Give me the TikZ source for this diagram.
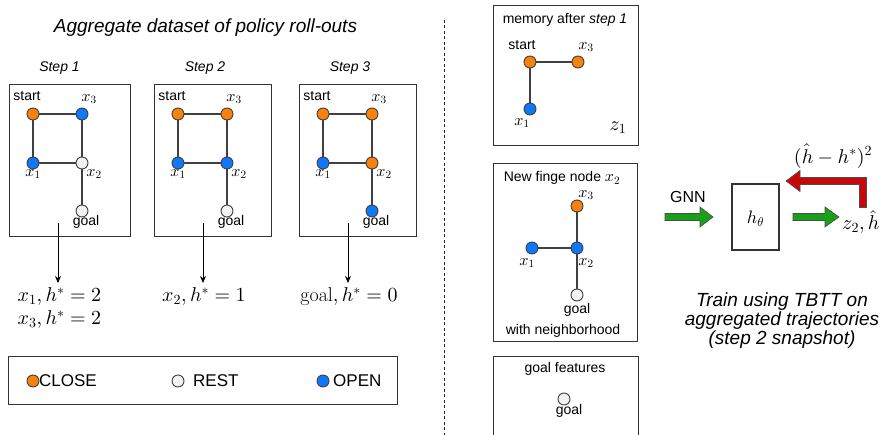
\documentclass[tikz,border=0pt]{standalone}
\usepackage{fontspec}
\newfontfamily\sans{Liberation Sans}
\usetikzlibrary{arrows.meta}
\DeclareFontFamily{OML}{cmm}{\skewchar\font127 }
\DeclareFontShape{OML}{cmm}{m}{it}{<->cmmi10}{}
\DeclareFontFamily{OMS}{cmsy}{\skewchar\font48 }
\DeclareFontShape{OMS}{cmsy}{m}{n}{<->cmsy10}{}
\DeclareFontFamily{OT1}{cmr}{\hyphenchar\font45 }
\DeclareFontShape{OT1}{cmr}{m}{n}{<->cmr10}{}
\definecolor{orangeC}{RGB}{250,130,10}
\definecolor{blueC}{RGB}{15,120,250}
\definecolor{restC}{RGB}{242,242,242}
\definecolor{greenC}{RGB}{25,160,25}
\definecolor{redC}{RGB}{200,8,8}
\tikzset{
  vtx/.style={circle, draw=black!75, line width=0.9pt, minimum size=12pt, inner sep=0pt},
  cl/.style={vtx, fill=orangeC},
  op/.style={vtx, fill=blueC},
  rs/.style={vtx, fill=restC},
  edge/.style={draw=black!75, line width=1.2pt},
  frame/.style={draw=black!80, line width=1.2pt, inner sep=0pt},
  tf/.style={font=\sans\fontsize{14}{16}\selectfont, inner sep=0pt},
  tit/.style={font=\sans\itshape\fontsize{14}{16}\selectfont, inner sep=0pt},
  big/.style={font=\sans\itshape\fontsize{19}{19}\selectfont, inner sep=0pt, align=center},
  leg/.style={font=\sans\fontsize{17}{19}\selectfont, inner sep=0pt, anchor=west},
  ml/.style={font=\fontsize{16}{18}\selectfont, inner sep=0pt},
  mb/.style={font=\fontsize{20}{22}\selectfont, inner sep=0pt},
  arr/.style={-{Stealth[length=7pt,width=6pt]}, line width=0.9pt, black},
  blk/.style={draw=black!70, line width=0.6pt},
}
\newcommand\stepgraph[8]{%
\begin{scope}[shift={(#2,0)}]
  \node[frame, anchor=north west, minimum width=#3pt, minimum height=152pt] (#1box) at (9,84) {};
  \node[#4] (#1s) at (33,114) {};
  \node[#5] (#1c) at (82,114) {};
  \node[#6] (#1a) at (33,163) {};
  \node[#7] (#1b) at (82,163) {};
  \node[#8] (#1g) at (82,211) {};
  \draw[edge] (#1s) -- (#1c);
  \draw[edge] (#1s) -- (#1a);
  \draw[edge] (#1a) -- (#1b);
  \draw[edge] (#1c) -- (#1b);
  \draw[edge] (#1b) -- (#1g);
  \node[tf] (#1ls) at (27,96) {start};
  \node[ml] (#1lc) at (89,99) {$x_3$};
  \node[ml] (#1la) at (33,174) {$x_1$};
  \node[ml] (#1lb) at (94,174) {$x_2$};
  \node[tf] (#1lg) at (86,222) {goal};
  \coordinate (#1o) at (58,223);
  \coordinate (#1r) at (58,283);
  \draw[arr] (#1o) -- (#1r);
\end{scope}}
\begin{document}
\begin{tikzpicture}[x=1pt,y=-1pt]
\useasboundingbox (0,0) rectangle (891,435);
% left panel
\node[big] (title) at (205.5,28) {Aggregate dataset of policy roll-outs};
\node[tit] (st1) at (59.5,68) {Step 1};
\node[tit] (st2) at (205,68) {Step 2};
\node[tit] (st3) at (350,68) {Step 3};
\stepgraph{p}{0}{121}{cl}{op}{op}{rs}{rs}
\stepgraph{q}{145}{117}{cl}{cl}{op}{op}{rs}
\stepgraph{r}{290}{117}{cl}{cl}{op}{cl}{op}
\node[mb] (ra) at (59.5,297) {$x_1, h^{*}=2$};
\node[mb] (rb) at (59.5,320) {$x_3, h^{*}=2$};
\node[mb] (rc) at (204,297) {$x_2, h^{*}=1$};
\node[mb] (rd) at (349,297) {$\mathrm{goal}, h^{*}=0$};
% legend
\node[frame, anchor=north west, minimum width=389pt, minimum height=48pt] (legend) at (8,356) {};
\node[cl] (lc) at (33,381) {};
\node[leg] (lct) at (39,381) {CLOSE};
\node[rs] (lr) at (178,381) {};
\node[leg] (lrt) at (193,381) {REST};
\node[op] (lo) at (323,381) {};
\node[leg] (lot) at (333,381) {OPEN};
% divider
\coordinate (d1) at (444,20);
\coordinate (d2) at (444,435);
\draw[black!85, line width=1pt, dash pattern=on 3pt off 2.5pt] (d1) -- (d2);
% memory box
\node[frame, anchor=north west, minimum width=145pt, minimum height=140pt] (mem) at (493,5) {};
\node[tf] (memt) at (565,20) {memory after \textit{step 1}};
\node[cl] (ms) at (530,62) {};
\node[cl] (mc) at (578,62) {};
\node[op] (ma) at (530,109) {};
\draw[edge] (ms) -- (mc);
\draw[edge] (ms) -- (ma);
\node[tf] (mls) at (522,45) {start};
\node[ml] (mlc) at (586,47) {$x_3$};
\node[ml] (mla) at (522,123) {$x_1$};
\node[mb] (mz) at (618,128) {$z_1$};
% fringe box
\node[frame, anchor=north west, minimum width=144pt, minimum height=178pt] (fr) at (493,163) {};
\node[tf] (frt) at (562,178) {New finge node {\fontsize{16}{18}\selectfont$x_2$}};
\node[cl] (fc) at (577,206) {};
\node[op] (fa) at (532,248) {};
\node[op] (fb) at (577,248) {};
\node[rs] (fg) at (577,295) {};
\draw[edge] (fc) -- (fb);
\draw[edge] (fa) -- (fb);
\draw[edge] (fb) -- (fg);
\node[ml] (flc) at (586,195) {$x_3$};
\node[ml] (fla) at (527,263) {$x_1$};
\node[ml] (flb) at (586,263) {$x_2$};
\node[tf] (flg) at (577,310) {goal};
\node[tf] (frb) at (563,331) {with neighborhood};
% goal features box
\node[frame, anchor=north west, minimum width=145pt, minimum height=79pt] (gf) at (493,356) {};
\node[tf] (gft) at (565,369) {goal features};
\node[rs] (gfn) at (564,399) {};
\node[tf] (gfl) at (569,411) {goal};
% GNN part
\node[tf, font=\sans\fontsize{16}{18}\selectfont] (gnn) at (688,197) {GNN};
\filldraw[blk, fill=greenC] (665,213.5) -- (700,213.5) -- (700,207) -- (713,217) -- (700,227) -- (700,220.5) -- (665,220.5) -- cycle;
\node[frame, minimum width=47pt, minimum height=66pt] (hb) at (755.5,217) {};
\node[font=\fontsize{18}{20}\selectfont, inner sep=0pt] (ht) at (755.5,219) {$h_\theta$};
\filldraw[blk, fill=greenC] (793,213.5) -- (825,213.5) -- (825,207) -- (839,217) -- (825,227) -- (825,220.5) -- (793,220.5) -- cycle;
\node[mb, anchor=west] (zo) at (842,222) {$z_2, \hat{h}$};
\filldraw[blk, fill=redC] (866.5,207.5) -- (866.5,177.5) -- (800,177.5) -- (800,170.5) -- (786,181) -- (800,191.5) -- (800,184.5) -- (859.5,184.5) -- (859.5,207.5) -- cycle;
\node[mb] (loss) at (833,156) {$(\hat{h}-h^{*})^{2}$};
\node[big] (train) at (782,321) {Train using TBTT on\\aggregated trajectories\\(step 2 snapshot)};
\end{tikzpicture}
\end{document}
